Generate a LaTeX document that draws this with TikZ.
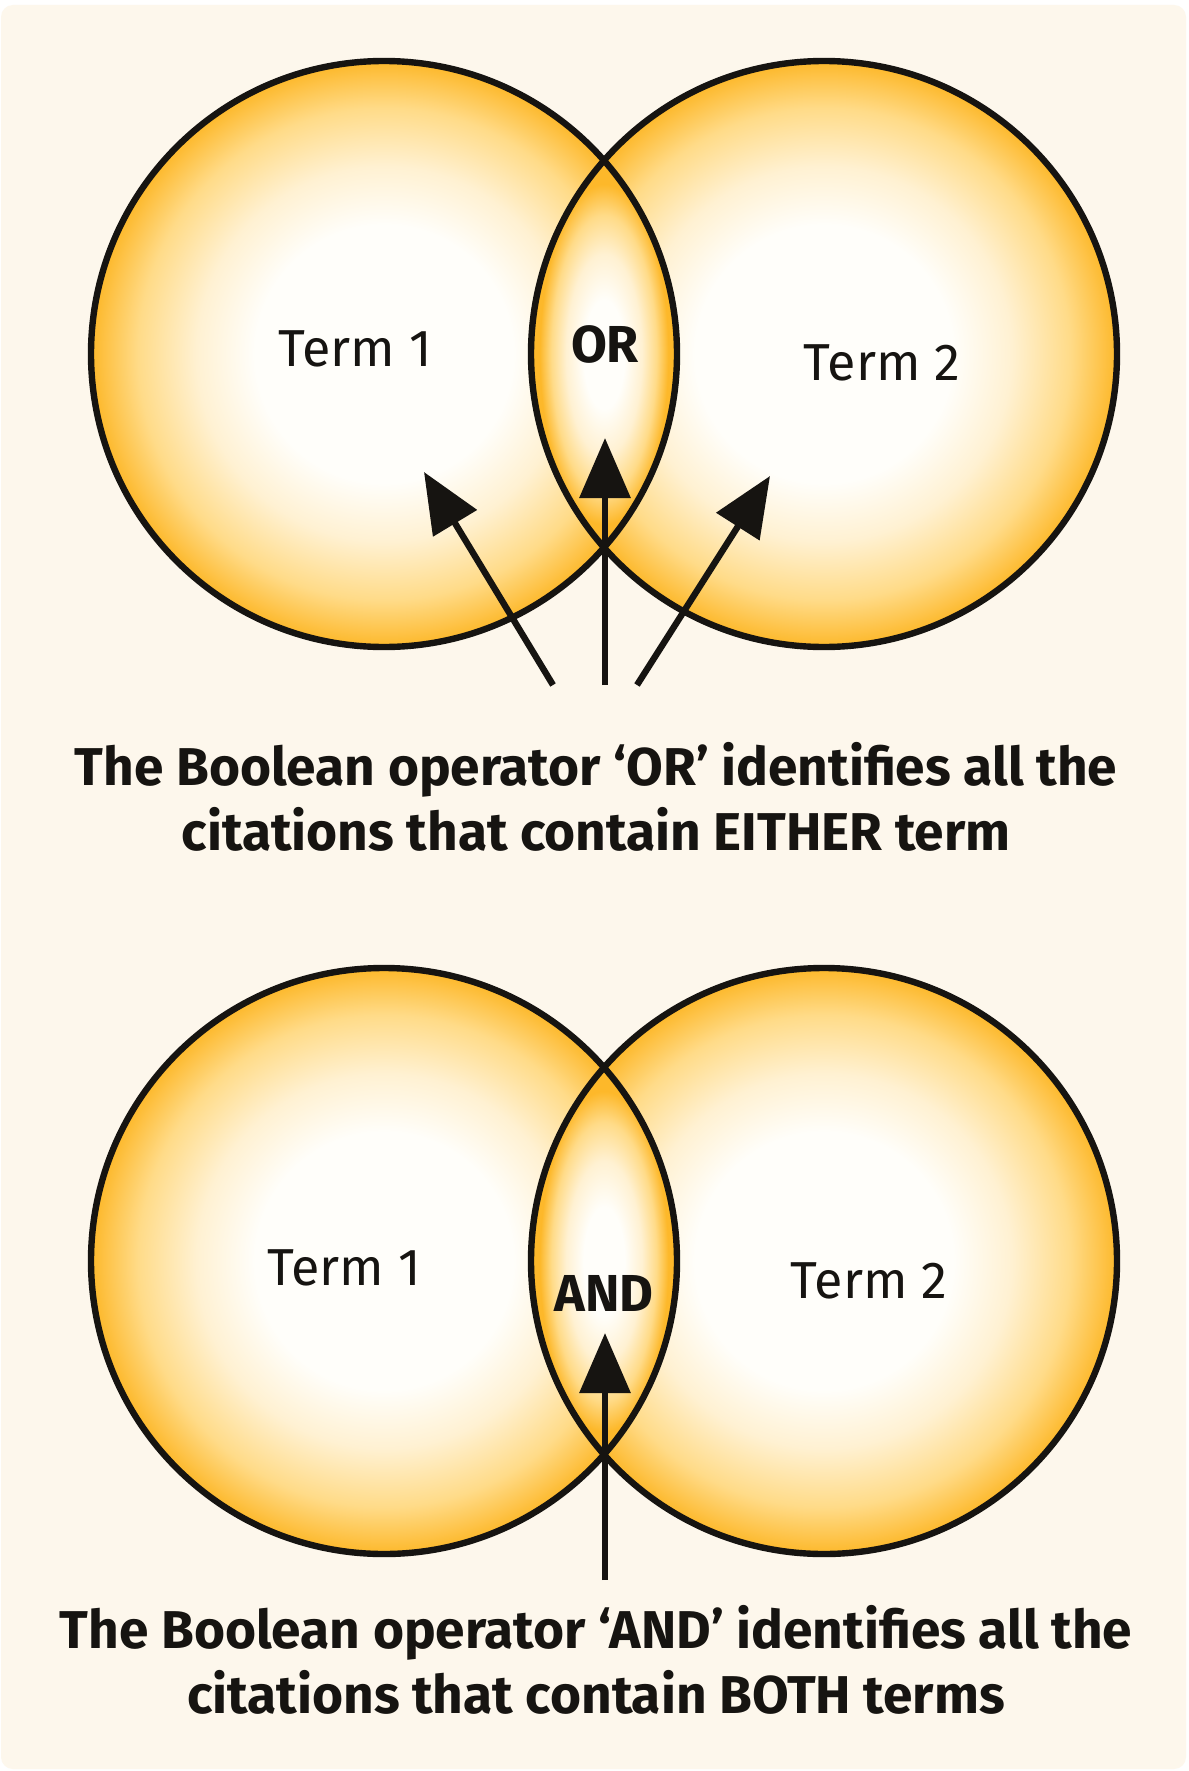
\documentclass[tikz,border=0pt]{standalone}
\usepackage{fontspec}
\setmainfont{Fira Sans}
\usepackage{xcolor}
\definecolor{paper}{HTML}{FDF7EC}
\definecolor{ink}{HTML}{161411}
\definecolor{glowcore}{HTML}{FFFEFA}
\definecolor{glowpale}{HTML}{FFF1D2}
\definecolor{glowmid}{HTML}{FFDB88}
\definecolor{glowedge}{HTML}{FDB82A}
\usetikzlibrary{arrows.meta}
\pgfdeclareradialshading{vennglow}{\pgfpoint{0bp}{0bp}}{color(0bp)=(glowcore); color(11bp)=(glowcore); color(16bp)=(glowpale); color(21bp)=(glowmid); color(25bp)=(glowedge); color(50bp)=(glowedge)}
\pgfdeclareradialshading{lensglow}{\pgfpoint{0bp}{0bp}}{color(0bp)=(glowcore); color(7bp)=(glowcore); color(13bp)=(glowpale); color(18bp)=(glowmid); color(22bp)=(glowedge); color(50bp)=(glowedge)}

\begin{document}
\begin{tikzpicture}[x=0.5pt,y=-0.5pt,
  ring/.style={draw=ink,line width=3.2pt},
  lbl/.style={text=ink,inner sep=0pt,font=\fontsize{26}{30}\selectfont},
  op/.style={text=ink,inner sep=0pt,font=\fontsize{26}{30}\selectfont\bfseries},
  captext/.style={text=ink,align=center,inner sep=0pt,font=\fontsize{26.6}{32.5}\selectfont\bfseries},
  arr/.style={draw=ink,line width=3.2pt,-{Triangle[length=30pt,width=25pt]}}]
  \useasboundingbox (0,0) rectangle (1188,1771);
  \fill[white] (0,0) rectangle (1188,1771);
  \fill[paper,rounded corners=6pt] (1,5) rectangle (1186,1769);

  % OR diagram
  \shade[shading=vennglow] (384,354) circle[radius=293];
  \shade[shading=vennglow] (824,354) circle[radius=293];
  \begin{scope}
    \clip (384,354) circle[radius=293];
    \clip (824,354) circle[radius=293];
    \shade[shading=lensglow] (531,161) rectangle (677,548);
  \end{scope}
  \draw[ring] (384,354) circle[radius=293];
  \draw[ring] (824,354) circle[radius=293];
  \node[lbl] (orterma) at (355,349) {Term 1};
  \node[op] (orop) at (605,344) {OR};
  \node[lbl] (ortermb) at (882,363) {Term 2};
  \coordinate (ortaila) at (553,685);
  \coordinate (ortipa) at (424,472);
  \coordinate (ortailb) at (605,685);
  \coordinate (ortipb) at (605,438);
  \coordinate (ortailc) at (637,685);
  \coordinate (ortipc) at (770,476);
  \foreach \p/\q in {ortaila/ortipa,ortailb/ortipb,ortailc/ortipc} \draw[arr] (\p) -- (\q);
  \node[captext] (orcap) at (596,797) {The Boolean operator ‘OR’ identifies all the\\citations that contain EITHER term};

  % AND diagram
  \shade[shading=vennglow] (384,1261) circle[radius=293];
  \shade[shading=vennglow] (824,1261) circle[radius=293];
  \begin{scope}
    \clip (384,1261) circle[radius=293];
    \clip (824,1261) circle[radius=293];
    \shade[shading=lensglow] (531,1068) rectangle (677,1455);
  \end{scope}
  \draw[ring] (384,1261) circle[radius=293];
  \draw[ring] (824,1261) circle[radius=293];
  \node[lbl] (andterma) at (344,1268) {Term 1};
  \node[op] (andop) at (604,1293) {AND};
  \node[lbl] (andtermb) at (869,1281) {Term 2};
  \coordinate (andtail) at (605,1580);
  \coordinate (andtip) at (605,1333);
  \draw[arr] (andtail) -- (andtip);
  \node[captext] (andcap) at (596,1660) {The Boolean operator ‘AND’ identifies all the\\citations that contain BOTH terms};
\end{tikzpicture}
\end{document}
